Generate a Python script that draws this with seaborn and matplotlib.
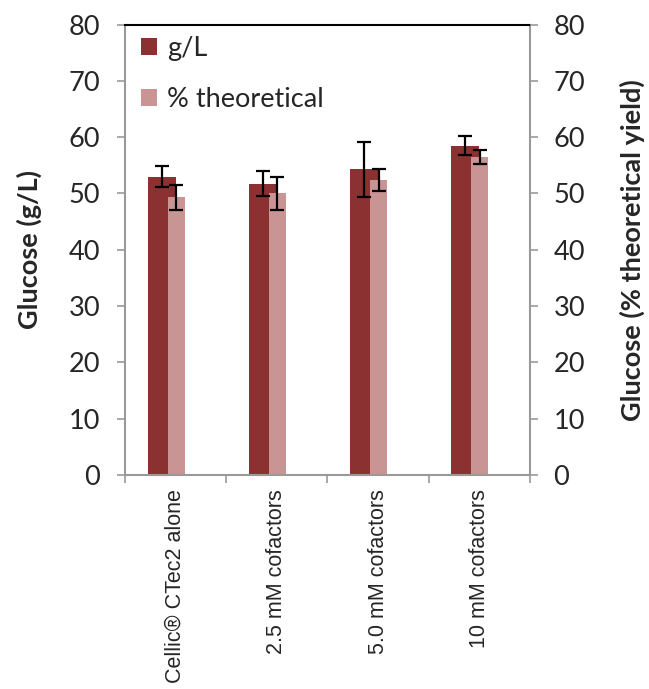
import pandas as pd
import matplotlib
matplotlib.use("Agg")
import matplotlib.pyplot as plt
import seaborn as sns

# Data
categories = ["Cellic® CTec2 alone", "2.5 mM cofactors", "5.0 mM cofactors", "10 mM cofactors"]
glucose_gl = [53.0, 51.7, 54.3, 58.5]
glucose_gl_err = [1.9, 2.2, 4.9, 1.75]
glucose_pct = [49.3, 50.0, 52.4, 56.5]
glucose_pct_err = [2.2, 3.0, 2.0, 1.2]

dark = "#8B3131"
light = "#C99594"

sns.set_style("ticks")
plt.rcParams["font.family"] = ["Lato", "DejaVu Sans"]

df_gl = pd.DataFrame({"cat": categories, "val": glucose_gl})
df_pct = pd.DataFrame({"cat": categories, "val": glucose_pct})

fig = plt.figure(figsize=(6.49, 6.89), dpi=100)
ax = fig.add_axes([0.1926, 0.3106, 0.6240, 0.6538])

sns.barplot(data=df_gl, x="cat", y="val", color=dark, width=0.276,
            saturation=1, ax=ax, label="g/L")
n = len(categories)
sns.barplot(data=df_pct, x="cat", y="val", color=light, width=0.167,
            saturation=1, ax=ax, label="% theoretical")

# shift bars to match Excel-style overlap
for i, p in enumerate(ax.patches):
    p.set_linewidth(0)
    if i < n:
        p.set_x(p.get_x() - 0.138)
    else:
        p.set_x(p.get_x() + 0.005)

bars = ax.patches
xs_gl = [bars[i].get_x() + bars[i].get_width() / 2 for i in range(n)]
xs_pct = [bars[n + i].get_x() + bars[n + i].get_width() / 2 for i in range(n)]
ax.errorbar(xs_gl, glucose_gl, yerr=glucose_gl_err, fmt="none", ecolor="black",
            elinewidth=1.6, capsize=4.8, capthick=1.6, zorder=5)
ax.errorbar(xs_pct, glucose_pct, yerr=glucose_pct_err, fmt="none", ecolor="black",
            elinewidth=1.6, capsize=4.8, capthick=1.6, zorder=5)

ax.set_ylim(0, 80)
ax.set_xlim(-0.5, n - 0.5)
ax.set_yticks(range(0, 81, 10))
ax.tick_params(axis="y", labelsize=19.5, length=6, width=1.2, color="#999999", pad=12)
ax.set_xticks(range(n))
ax.set_xticklabels(categories, rotation=90, fontsize=15.5, family="Liberation Sans",
                   va="top")
ax.tick_params(axis="x", length=0, pad=10)
ax.set_xticks([i - 0.5 for i in range(n + 1)], minor=True)
ax.tick_params(axis="x", which="minor", length=6, width=1.2, color="#999999")
ax.set_xlabel("")
ax.set_ylabel("Glucose (g/L)", fontsize=19.5, fontweight="bold", labelpad=19)

for side in ["left", "right", "bottom"]:
    ax.spines[side].set_color("#999999")
    ax.spines[side].set_linewidth(1.5)
ax.spines["top"].set_color("black")
ax.spines["top"].set_linewidth(1.5)

ax2 = ax.twinx()
ax2.set_ylim(0, 80)
ax2.set_yticks(range(0, 81, 10))
ax2.tick_params(axis="y", labelsize=19.5, length=6, width=1.2, color="#999999", pad=11)
ax2.set_ylabel("Glucose (% theoretical yield)", fontsize=19.5, fontweight="bold",
               labelpad=25)
for side in ["left", "right", "bottom", "top"]:
    ax2.spines[side].set_visible(False)

ax.legend(loc="upper left", frameon=False, fontsize=19.5, handlelength=0.6,
          handleheight=0.6, handletextpad=0.35, labelspacing=0.95,
          borderaxespad=0.2, bbox_to_anchor=(0.0, 1.01))

fig.savefig("out.png", dpi=100)
